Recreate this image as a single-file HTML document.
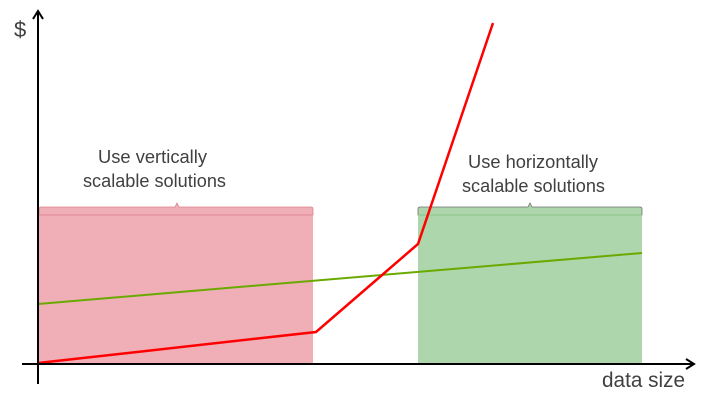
<!DOCTYPE html>
<html><head><style>
body{margin:0;background:#fff;width:705px;height:409px;overflow:hidden}
svg text{font-family:"Liberation Sans",sans-serif;fill:#404040}
</style></head><body>
<svg width="705" height="409" viewBox="0 0 705 409">
<rect x="39" y="215" width="274" height="148" fill="#f0aeb6"/>
<path d="M39,215 V209 Q39,207 41,207 H175 L177,203 L179,207 H311 Q313,207 313,209 V215 Z" fill="#f0aeb6" stroke="#d9848e" stroke-width="0.8"/>
<line x1="39" y1="215" x2="313" y2="215" stroke="#e08a96" stroke-width="1"/>
<rect x="418" y="215" width="224" height="148" fill="#aed6ac"/>
<path d="M418,215 V209 Q418,207 420,207 H528 L530,203 L532,207 H640 Q642,207 642,209 V215 Z" fill="#aed6ac" stroke="#707070" stroke-width="0.8"/>
<line x1="418" y1="215" x2="642" y2="215" stroke="#8fc48c" stroke-width="1"/>
<line x1="38" y1="304" x2="642" y2="253" stroke="#6aaa00" stroke-width="2"/>
<polyline points="38,363 316,332 418,244 493,23" fill="none" stroke="#ff0000" stroke-width="2.5"/>
<line x1="38" y1="384" x2="38" y2="12" stroke="#000" stroke-width="2"/>
<polyline points="33,19 38,11 43,19" fill="none" stroke="#000" stroke-width="2"/>
<line x1="22" y1="364" x2="693" y2="364" stroke="#000" stroke-width="2"/>
<polyline points="686,359 694,364 686,369" fill="none" stroke="#000" stroke-width="2"/>
<text x="14" y="37" font-size="22">$</text>
<text x="602" y="387" font-size="21" textLength="83" lengthAdjust="spacingAndGlyphs">data size</text>
<text x="98" y="163" font-size="18" textLength="109" lengthAdjust="spacingAndGlyphs">Use vertically</text>
<text x="83" y="187" font-size="18" textLength="143" lengthAdjust="spacingAndGlyphs">scalable solutions</text>
<text x="468" y="168" font-size="18" textLength="130" lengthAdjust="spacingAndGlyphs">Use horizontally</text>
<text x="462" y="192" font-size="18" textLength="143" lengthAdjust="spacingAndGlyphs">scalable solutions</text>
</svg>
</body></html>
